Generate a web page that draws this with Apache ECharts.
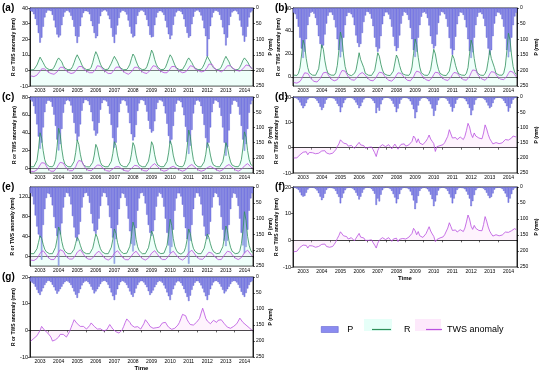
<!DOCTYPE html>
<html><head><meta charset="utf-8">
<script src="https://cdn.jsdelivr.net/npm/echarts@6/dist/echarts.min.js"></script>
<style>html,body{margin:0;padding:0;background:#fff}#c{width:550px;height:372px}</style>
</head><body><div id="c"></div>
<script>
const years = ['2003','2004','2005','2006','2007','2008','2009','2010','2011','2012','2013','2014'];
const monthNums = ['01','02','03','04','05','06','07','08','09','10','11','12'];
const ticksA = [-10,0,10,20,30,40];
const ticksB = [0,20,40,60];
const ticksC = [0,20,40,60,80];
const ticksD = [-10,0,10,20];
const ticksE = [0,40,80,120];
const ticksP = [0,50,100,150,200,250];

// (a)
const pA = [10,12,20,35,55,80,111,95,60,30,15,8,
 8,10,22,40,62,85,94,88,55,28,14,9,
 9,14,25,38,60,90,112,92,58,30,16,10,
 10,12,20,42,58,80,97,90,50,26,12,8,
 7,11,24,36,64,92,112,85,56,32,14,9,
 9,13,21,40,60,82,94,90,52,25,13,8,
 8,12,23,38,58,86,94,92,55,30,15,10,
 10,14,22,41,62,84,100,88,54,27,14,9,
 9,12,20,36,60,80,95,90,52,28,12,8,
 8,13,24,40,65,90,155,100,58,30,15,9,
 9,12,22,38,62,84,120,95,55,28,14,10,
 8,11,20,40,60,88,108,92,60,30,14,9];
const rA = [0.3,0.2,0.5,1.5,3.5,6,8.5,7.5,5,3,1.5,0.8,
 0.5,0.3,0.6,2,4,6.5,8,7,5.5,3,1.5,0.7,
 0.4,0.3,0.8,2.5,5,8,10,9,6,3.5,1.8,0.8,
 0.5,0.4,0.7,2,5,9,12,10,7,4,2,1,
 0.5,0.3,0.8,2,4.5,7,9,8.5,5.5,3,1.5,0.8,
 0.4,0.3,0.6,2,4,7.5,10.5,9,6,3.5,1.6,0.7,
 0.5,0.3,0.8,2.5,5.5,9,13,11,7,4,2,1,
 0.5,0.4,0.7,2,4.5,7.5,10,8.5,6,3.5,1.7,0.8,
 0.4,0.3,0.6,1.8,4,6.5,8,7.5,5,3,1.5,0.7,
 0.5,0.3,0.7,2,4,6.5,9,8,5.5,3.2,1.6,0.8,
 0.5,0.4,0.8,2.2,4.5,7,9,8.5,5.5,3,1.5,0.7,
 0.4,0.3,0.6,2,4,6.5,8,7.5,5.5,3.5,2,1];
const tA = [-3.5,-4,-4,-3.8,-3,-2,-0.5,1,1.5,1,0,-1,
 -1.5,-2,-2.5,-2.5,-2,-1,0.5,2,2.5,2,0.5,-0.5,
 -1,-1.5,-2,-2,-1.5,-0.5,1,2.5,3,2.5,1,0,
 -0.5,-1,-1.5,-1.8,-1.5,-0.5,1,3,3.5,2.5,1.2,0.2,
 -0.5,-1,-2,-2.5,-2,-1,0.5,2,3,2.2,1,0,
 -1,-1.5,-2,-2.5,-2.2,-1,0,2,2.8,2,0.8,-0.2,
 -1,-1.5,-2,-2,-1.5,0,1.5,3,3.5,2.5,1,0,
 -0.5,-1,-1.5,-2,-1.5,-0.5,1,2.5,3.2,2.5,1.2,0.3,
 -0.5,-1,-1.5,-1.5,-1,0,1.5,3,3.2,2.5,1,0.2,
 0,-0.5,-1,-1,-0.5,0.5,2,4,5,4,2.5,1,
 0.5,0,-0.5,-1,-0.5,0.5,1.5,3,3.5,3,2,1,
 0.5,0,-0.5,-0.5,0,1,2,3.5,4,3,2,1];

// (b)
const pB = [15,20,35,60,95,130,160,140,100,55,28,15,
 12,18,32,55,90,115,128,120,85,50,25,14,
 14,22,38,62,100,135,158,140,95,55,26,15,
 15,20,30,55,88,112,125,115,80,45,24,12,
 13,19,34,58,95,125,140,130,90,52,26,14,
 14,21,36,60,92,122,138,128,88,50,25,13,
 15,22,38,64,100,135,157,140,95,55,28,15,
 13,18,32,56,90,115,130,122,85,48,24,12,
 14,20,35,60,96,130,150,135,92,52,26,14,
 15,22,38,62,100,138,160,142,95,55,28,15,
 14,20,34,58,95,130,150,135,90,50,26,14,
 15,21,36,60,98,135,158,140,95,55,27,15];
const rB = [1.5,1,1.2,3,8,19,32,27,16,8,3.5,2,
 1.5,1,1.3,3,7,17,28,24,14,7,3,1.8,
 1.5,1.1,1.4,3.5,10,23,39,33,19,9,4,2,
 1.5,1,1.2,3,6,13,21,15,16,8,3,1.6,
 1.4,1,1.2,2.8,5.5,13,21,18,11,6,2.8,1.6,
 1.4,1,1.1,2.6,5,12,19,16,10,5.5,2.6,1.5,
 1.5,1.1,1.3,3.2,8.5,20,33,28,17,8.5,3.5,1.9,
 1.5,1,1.2,3,6.5,15,24,20,12,6.5,3,1.7,
 1.4,1,1.1,2.7,5,12,19,16,10,5.5,2.6,1.5,
 1.5,1.1,1.3,3.2,8,20,32,27,16,8,3.4,1.9,
 1.5,1,1.2,3,6,14,23,16,17,8,3,1.7,
 1.5,1.1,1.4,3.5,9.5,23,38,32,19,9,4,2];
const tB = [-5,-5.5,-5.5,-5,-4,-2,1,3.5,4.5,3,1,-1.5,
 -3,-4,-4.5,-4.5,-3.5,-1.5,1,3.5,4.5,4,2,0,
 -2,-3,-3.5,-3.5,-2.5,0,3,5.5,6.5,5,2.5,0,
 -1.5,-2.5,-3,-3,-2,0,2,3.5,3.8,3,1.5,-0.5,
 -2,-3,-3.5,-3.5,-2.5,-0.5,2,4,4.5,3.5,1.5,-0.5,
 -2,-3,-3.5,-3.8,-3,-1,1.5,3.5,4,3,1.5,-0.5,
 -2,-3,-3.5,-3.5,-2.5,0,3,5,5.5,4,2,0,
 -1.5,-2.5,-3,-3.5,-2.5,-0.5,2,4,4.5,3.5,1.5,-0.3,
 -1.5,-2.5,-3,-3.2,-2.5,-0.5,2,3.8,4.2,3.2,1.5,-0.3,
 -1.5,-2.5,-3,-3,-2,0.5,3.5,6,7,5.5,3,0.5,
 -1,-2,-2.5,-3,-2,0,2.5,4.5,5,4,2,0,
 -1,-2,-2.5,-2.5,-1.5,0.5,3,5,5.5,4,2,0];

// (c)
const pC = [10,15,30,55,90,130,170,150,100,50,22,12,
 12,16,32,58,95,140,176,155,105,52,24,12,
 10,14,28,52,85,120,143,130,90,45,20,10,
 10,14,26,50,80,110,127,120,85,42,20,10,
 11,15,30,55,92,135,167,150,100,50,22,11,
 10,14,28,52,86,122,143,132,92,46,21,10,
 10,13,26,48,78,105,117,112,80,40,19,10,
 11,15,30,54,88,128,153,140,95,48,22,11,
 12,17,34,60,98,148,187,160,108,54,25,12,
 11,15,30,55,92,135,167,150,100,50,22,11,
 12,17,35,62,100,150,193,165,110,55,25,12,
 12,16,32,58,95,140,177,155,105,52,24,12];
const rC = [2,1.5,2,4,9,22,40,34,20,10,5,3,
 2.2,1.6,2,4.5,10,25,45,38,22,11,5,3,
 2,1.5,2,4,8,18,32,27,16,8,4,2.5,
 2,1.4,1.8,3.5,7,15,27,23,14,7,3.5,2.2,
 2,1.5,2,3.8,8,17,30,26,15,8,4,2.4,
 2.1,1.5,1.9,3.7,7.5,16,29,25,15,7.5,3.8,2.3,
 2,1.6,2,3.9,8.2,17,30,26,15.5,8,4,2.4,
 2,1.5,2.1,3.8,8,17.5,31,26,15,8,4,2.4,
 2.2,1.6,2,4.5,10,24,43,36,21,10,5,3,
 2,1.5,1.9,3.7,7.5,16,29,25,15,7.5,3.8,2.3,
 2.1,1.5,1.9,3.8,7.8,16.5,29,24,14.5,7.5,3.8,2.3,
 2.2,1.6,2,4.5,10,23,41,35,20,10,5,3];
const tC = [-3,-3.5,-3.5,-3,-1.5,1,4,6.5,7.5,6,3,0,
 -2,-3,-3.5,-3,-1.5,1.5,4.5,7,8,6,3,0.5,
 -1.5,-2.5,-3,-2.5,-1,2,6,9,10,8,4.5,1,
 -1,-2,-2.5,-2.5,-1.5,0.5,2.5,4,4.5,3.5,1.5,-0.5,
 -1.5,-2.5,-3,-3,-2,-0.5,1,2,2.5,2,0.5,-1,
 -1.5,-2.5,-3,-3,-2,0,2,3.5,4,3,1,-0.5,
 -1.5,-2.5,-3,-2.8,-1.5,0.5,3,5,5.5,4,2,0,
 -1.5,-2.5,-3,-3,-2,-0.5,1,2,2.5,2,0.5,-1,
 -1.5,-2.5,-3,-2.8,-1.5,0,2.5,4,4.5,3.5,1.5,-0.5,
 -1.5,-2.5,-3,-3,-2,-0.5,1,2.2,2.5,2,0.5,-1,
 -1.5,-2.5,-3,-2.8,-1.5,0.2,2.5,4,4.5,3.5,1.5,-0.5,
 -1.5,-2.5,-3,-2.5,-1,1,3,5,5.5,4,2,0];

// (d)
const pD = [2,3,5,10,18,28,37,30,20,8,3,2,
 2,3,6,12,20,32,43,35,22,9,4,2,
 3,4,6,12,22,30,50,34,20,10,4,2,
 2,3,5,10,18,26,37,30,18,8,3,2,
 2,3,6,12,20,53,35,45,24,10,4,2,
 2,3,6,12,22,32,50,38,22,9,4,2,
 3,4,7,14,25,40,70,50,28,12,5,3,
 2,4,7,14,24,38,62,45,26,11,4,2,
 2,3,6,12,22,32,48,36,22,9,4,2,
 3,4,7,14,24,36,60,44,25,10,4,2,
 2,3,5,10,18,28,37,32,20,8,3,2,
 2,3,6,12,20,30,48,36,22,9,4,2];
const tD = [-4.1,-4.2,-4,-3.5,-2.8,-2.2,-1.8,-1.4,-1.6,-2.8,-1.9,-2.3,
 -2,-1.6,-2.4,-2.8,-2.2,-1.6,-1.3,-1.8,-1.2,-2.1,-1.6,-2.5,
 -1.8,-2.2,-1.6,-0.8,0.5,1.5,3.1,2.4,1.8,1.2,1.5,0.6,
 0.4,0.9,0.2,-0.3,0.6,1.2,2.1,1.1,0.5,0.8,-0.2,0.3,
 0.1,-0.4,0.3,-0.8,-2,-3.5,-1.2,0.2,0.6,1.2,1,0.4,
 0.8,1.2,0.4,-0.5,0.6,1.4,0.9,-0.6,0.5,1.3,0.8,1.5,
 0.6,0.4,1.1,0.8,2.5,4.6,3.8,2,3.5,1.8,2.2,1.2,
 1.5,2.6,3.6,5,3.4,2.5,1.6,-1.5,0.4,-0.3,0.8,1.5,
 1.2,2,2.5,4.5,7.1,5.4,3.8,3.4,4,3.2,3.6,4.2,
 3.6,3.2,4.5,6.8,9.6,8.2,5.4,4,5.8,4.6,5,3.8,
 4.2,3.5,5.8,9,7.4,5.2,3.5,2.5,1.5,1.2,2,1.8,
 1.6,2.2,1.9,2.6,3.2,2.8,3,3.5,3.8,4.6,4.8,4.2];

// (e)
const pE = [20,30,55,90,125,150,160,230,120,70,35,20,
 22,32,58,95,130,155,250,150,115,65,32,18,
 20,30,55,92,128,160,171,150,110,65,32,20,
 18,28,50,85,115,140,148,135,100,60,30,18,
 20,32,58,95,130,160,243,165,120,70,35,20,
 22,34,60,100,140,180,204,185,130,75,36,20,
 18,28,52,88,120,145,155,140,105,62,30,18,
 22,34,62,100,145,185,210,190,135,75,36,20,
 20,30,56,95,130,165,243,170,120,70,34,19,
 20,30,55,90,125,155,165,150,110,65,32,19,
 21,32,58,95,135,170,187,170,120,70,34,20,
 22,34,60,100,145,185,210,190,135,75,36,20];
const rE = [5,4,5,8,15,28,41,36,24,14,9,6,
 5,4,5,9,18,35,59,50,30,17,10,6,
 5,4,5,8,14,26,38,33,22,13,8,6,
 5,4,5,8,16,30,45,38,25,15,9,6,
 5,4,5,9,18,34,55,46,28,16,10,6,
 5,4,6,10,20,40,69,58,34,19,11,7,
 5,4,5,9,17,32,51,43,27,16,9,6,
 5,4,6,10,22,44,75,62,36,20,12,7,
 5,4,5,9,18,34,55,46,28,16,10,6,
 5,4,5,8,16,30,45,38,25,15,9,6,
 5,4,6,9,19,37,61,52,31,18,10,6,
 5,4,6,11,25,50,90,72,40,22,12,7];
const tE = [-8,-9,-9,-8,-5,0,6,10,11,8,3,-2,
 -5,-7,-8,-7,-4,2,8,13,14,10,4,-1,
 -4,-6,-7,-6,-3,2,8,12,13,9,4,-1,
 -4,-6,-7,-6.5,-4,0,5,9,10,7,3,-1,
 -5,-7,-8,-7,-4,1,6,10,11,8,3,-2,
 -5,-7,-8,-7.5,-5,0,5,9,10,7,2,-2,
 -5,-7,-8,-7,-4,1,6,10,11,8,3,-2,
 -5,-7,-8,-7,-4,0,5,9,10,7,2,-2,
 -5,-7,-8,-7,-3,2,7,11,12,9,4,-1,
 -4,-6,-7,-6.5,-4,0,4,8,9,6,2,-2,
 -5,-7,-8,-7,-3,2,6,10,11,8,3,-1,
 -4,-6,-7,-6,-3,2,7,11,12,9,4,0];

// (f)
const pF = [2,3,5,9,17,26,30,28,18,8,3,2,
 2,3,6,11,19,30,41,34,21,9,4,2,
 3,4,6,12,22,31,51,34,20,10,4,2,
 2,3,5,10,18,27,39,30,18,8,3,2,
 2,3,6,12,21,56,36,45,24,10,4,2,
 2,3,6,12,22,33,51,38,22,9,4,2,
 3,4,7,14,26,42,69,50,28,12,5,3,
 2,4,7,14,24,38,60,45,26,11,4,2,
 2,3,6,12,22,33,51,36,22,9,4,2,
 3,4,7,14,24,36,60,44,25,10,4,2,
 2,3,5,10,18,27,35,31,20,8,3,2,
 2,3,6,12,20,31,49,36,22,9,4,2];
const tF = [-4.3,-4.2,-4.1,-3.4,-2.6,-2.1,-1.8,-1.6,-1.9,-2.9,-2,-2.4,
 -2.1,-1.8,-2.6,-3,-2.3,-1.8,-1.5,-2,-1.4,-2.3,-1.8,-2.6,
 -1.9,-2.3,-1.5,-0.6,0.7,1.8,3.2,2.5,1.7,1.1,1.4,0.5,
 0.3,1,0.4,-0.2,0.8,1.4,2.6,1.2,0.6,0.9,0,0.4,
 0,-0.5,0.2,-0.9,-1.8,-2.9,-1.1,0.1,0.5,1,0.9,0.3,
 0.6,1,0.3,-0.4,0.5,1.2,0.8,-0.5,0.4,1.1,0.7,1.3,
 0.5,0.5,1.2,1,2.6,4.5,3.6,2.1,3.3,1.7,2.1,1.1,
 1.4,2.5,3.8,5.1,3.5,2.4,1.5,-0.5,0.3,-0.2,0.9,1.6,
 1.3,2.1,2.7,4.6,6.6,5.2,3.7,3.3,3.9,3.1,3.5,4,
 3.5,3.3,4.6,6.9,9.5,8,5.3,4.1,5.6,4.5,4.9,3.7,
 4.1,3.6,5.9,8.9,7.2,5,3.4,2.4,1.6,1.3,2.1,1.9,
 1.7,2.3,2,2.7,3.1,2.9,3,3.3,3.6,4.2,4.4,4];

// (g)
const pG = [14,18,22,30,40,50,56,45,35,25,18,12,
 12,16,24,32,42,52,45,38,30,22,16,12,
 14,18,25,34,45,55,65,50,38,26,18,14,
 12,16,22,30,40,51,45,38,30,22,15,12,
 12,16,24,35,48,60,72,55,38,25,16,12,
 14,18,25,34,45,55,62,50,36,25,17,13,
 13,17,24,32,44,56,50,42,32,24,16,12,
 14,18,26,36,48,60,72,55,38,26,17,13,
 14,19,27,38,50,62,75,58,40,27,18,13,
 13,18,26,36,48,60,72,56,38,26,17,13,
 12,16,22,30,40,51,45,38,30,22,15,12,
 13,17,24,34,46,56,62,50,36,25,16,12];
const tG = [-4,-3.5,-3,-2.8,-2,-1,0,1.5,1,0,-0.5,-1,
 -1.5,-2.5,-4,-4,-3.5,-3,-2.5,-1.5,-1,-1.5,-2,-2.5,
 -1.5,-0.5,1,2.5,4,3.5,2.5,1.8,1.5,1.2,1.5,0.8,
 0.5,1,1.8,2.8,2.2,1.5,0.8,0.5,0.2,0.6,0.2,-0.2,
 -0.5,0.2,1.2,2.2,1.5,0.5,0,-0.5,-0.8,-1,-0.6,0.2,
 1.5,3,4.3,3.8,3,2,1.5,1.2,1,1.4,0.8,0.5,
 1.2,2.5,4,3.5,2.5,1.5,1,0.8,0.5,1,0.6,1.2,
 1.5,2.8,3.4,3,2,1.2,0.8,0.4,0.2,0.8,1.5,2,
 3,4.5,6,6.4,5.5,4,3,2.2,1.8,2,2.5,3,
 3.5,4.5,6.5,8.3,6.5,4.5,3.5,3,2.5,3,3.8,3.2,
 3,3.8,3.2,4,3.5,2.5,1.8,1.2,1,0.8,1,1.5,
 1.8,2.5,3.5,4.6,4,3,2.5,2,1.5,1,0.5,0];

const cats = [];
years.forEach(y => monthNums.forEach(m => cats.push(y + '-' + m)));

const FONT = 'Arial, "Liberation Sans", Helvetica, sans-serif';
const C_P = '#8a8bf0', C_PB = '#5253c8', C_R = '#2f8f5a', C_T = '#b950e0';

const panels = [
 {tag:'(a)', P:pA, R:rA, T:tA, x:30,  y:8,   w:223, h:78, min:-10, max:40,  ticks:ticksA, col:0},
 {tag:'(b)', P:pB, R:rB, T:tB, x:293, y:8,   w:224, h:78, min:-8,  max:60,  ticks:ticksB, col:1},
 {tag:'(c)', P:pC, R:rC, T:tC, x:30,  y:97,  w:223, h:76, min:-5,  max:80,  ticks:ticksC, col:0},
 {tag:'(d)', P:pD, R:null, T:tD, x:293, y:97,  w:224, h:76, min:-10, max:20, ticks:ticksD, col:1},
 {tag:'(e)', P:pE, R:rE, T:tE, x:30,  y:187, w:223, h:79, min:-20, max:140, ticks:ticksE, col:0},
 {tag:'(f)', P:pF, R:null, T:tF, x:293, y:187, w:224, h:80, min:-10, max:20, ticks:ticksD, col:1, time:true},
 {tag:'(g)', P:pG, R:null, T:tG, x:30,  y:277, w:223, h:81, min:-10, max:20, ticks:ticksD, col:0, time:true}
];

const grid = [], xAxis = [], yAxis = [], series = [], graphic = [];
const axLine = {show:true, lineStyle:{color:'#000', width:0.8}};
panels.forEach((p, i) => {
  grid.push({left:p.x, top:p.y, width:p.w, height:p.h, show:true, borderColor:'#000', borderWidth:0.8, backgroundColor:'transparent'});
  xAxis.push({type:'category', gridIndex:i, data:cats, boundaryGap:true,
    axisLine:axLine,
    axisTick:{show:true, interval:(idx)=>idx % 12 === 0, length:2, lineStyle:{color:'#000', width:0.6}},
    axisLabel:{interval:(idx)=>idx % 12 === 6, formatter:(v)=>v.slice(0,4), fontSize:5, margin:2, color:'#000', fontFamily:FONT},
    name: p.time ? 'Time' : '', nameLocation:'middle', nameGap: p.col ? 8 : 6,
    nameTextStyle:{fontSize:6, fontWeight:'bold', color:'#000', fontFamily:FONT},
    splitLine:{show:false}});
  yAxis.push({type:'value', gridIndex:i, position:'left', min:p.min, max:p.max,
    axisLine:axLine,
    axisTick:{show:true, customValues:p.ticks, length:2, lineStyle:{color:'#000', width:0.6}},
    axisLabel:{customValues:p.ticks, fontSize:5.5, margin:2, color:'#000', fontFamily:FONT},
    splitLine:{show:false},
    name:'R or TWS anomaly (mm)', nameLocation:'middle', nameGap: p.col ? 9 : 13,
    nameTextStyle:{fontSize:5, fontWeight:'bold', color:'#000', fontFamily:FONT}});
  yAxis.push({type:'value', gridIndex:i, position:'right', inverse:true, min:0, max:250, interval:50,
    axisLine:axLine,
    axisTick:{show:true, customValues:ticksP, length:2, lineStyle:{color:'#000', width:0.6}},
    axisLabel:{customValues:ticksP, fontSize:5, margin:3, color:'#000', fontFamily:FONT},
    splitLine:{show:false},
    name:'P (mm)', nameLocation:'middle', nameGap: p.col ? 17 : 12,
    nameTextStyle:{fontSize:5, fontWeight:'bold', color:'#000', fontFamily:FONT}});
  series.push({name:'P', type:'bar', xAxisIndex:i, yAxisIndex:2*i+1, data:p.P, barCategoryGap:'0%',
    itemStyle:{color:C_P, borderColor:C_PB, borderWidth:0.4}, z:1, silent:true});
  if (p.R) series.push({name:'R', type:'line', xAxisIndex:i, yAxisIndex:2*i, data:p.R, symbol:'none',
    lineStyle:{color:C_R, width:0.8}, itemStyle:{color:C_R},
    areaStyle:{color:'rgba(205,255,240,0.45)', origin:'start'}, z:3, silent:true});
  series.push({name:'TWS anomaly', type:'line', xAxisIndex:i, yAxisIndex:2*i, data:p.T, symbol:'none',
    lineStyle:{color:C_T, width:0.8}, itemStyle:{color:C_T},
    areaStyle:{color:'rgba(250,205,245,0.35)', origin:0}, z:4, silent:true});
  graphic.push({type:'text', left: p.col ? 275 : 2, top: p.y - 5,
    style:{text:p.tag, fontSize:10, fontWeight:'bold', fontFamily:FONT, fill:'#000'}});
});

graphic.push({type:'rect', shape:{x:364, y:319, width:28, height:12}, style:{fill:'#e6fff8'}, z:-1});
graphic.push({type:'rect', shape:{x:415, y:319, width:26, height:12}, style:{fill:'#fde9fb'}, z:-1});

const txt = {fontSize:9, color:'#000', fontFamily:FONT};
const option = {
  animation:false,
  backgroundColor:'#fff',
  grid, xAxis, yAxis, series, graphic,
  legend:[
    {data:[{name:'P', icon:'rect', itemStyle:{color:C_P, borderColor:C_PB, borderWidth:0.5}}], left:316, top:320, itemWidth:17, itemHeight:6, selectedMode:false,
      textStyle:Object.assign({}, txt, {padding:[0,0,0,4]})},
    {data:[{name:'R', icon:'rect', itemStyle:{color:C_R, borderWidth:0}}], left:367, top:320, itemWidth:19, itemHeight:1.2, selectedMode:false,
      textStyle:Object.assign({}, txt, {padding:[0,0,0,8]})},
    {data:[{name:'TWS anomaly', icon:'rect', itemStyle:{color:C_T, borderWidth:0}}], left:421, top:320, itemWidth:16, itemHeight:1.2, selectedMode:false,
      textStyle:txt}
  ]
};
const chart = echarts.init(document.getElementById('c'), null, {renderer:'canvas', width:550, height:372});
chart.setOption(option);
</script></body></html>
